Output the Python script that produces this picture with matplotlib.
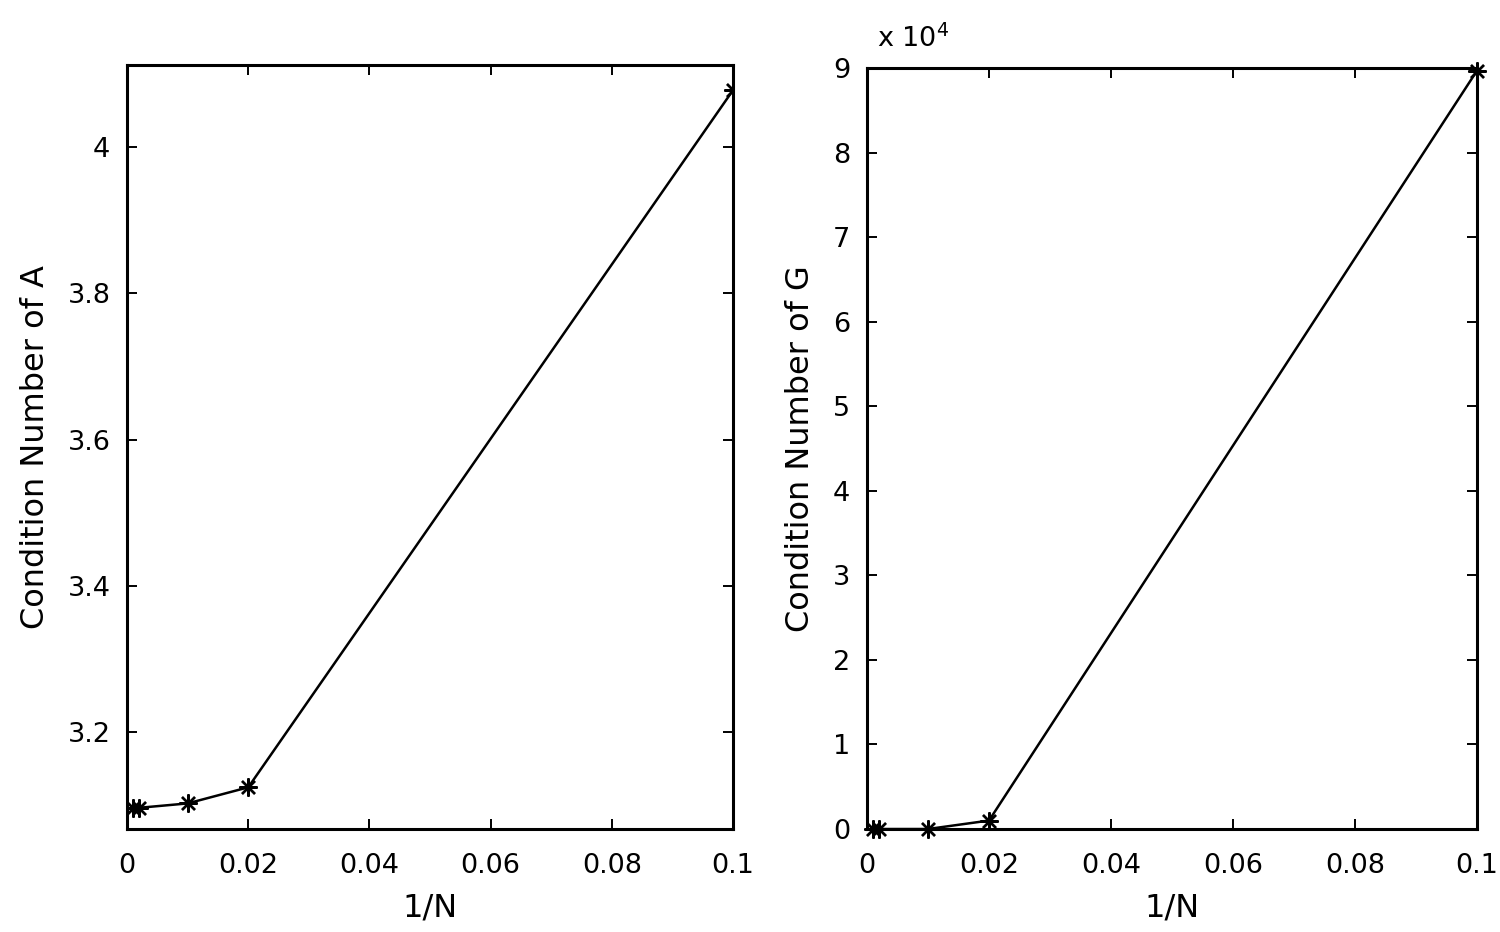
import matplotlib
matplotlib.use('Agg')
import matplotlib.pyplot as plt
from matplotlib.ticker import FuncFormatter

plt.rcParams['font.family'] = ['DejaVu Sans']

# 1/N values and condition numbers
inv_n = [0.001, 0.002, 0.01, 0.02, 0.1]
cond_a = [3.097, 3.097, 3.103, 3.125, 4.078]
cond_g = [0.0, 0.0, 0.0, 1000.0, 89700.0]

x_ticks = [0, 0.02, 0.04, 0.06, 0.08, 0.1]
x_labels = ['0', '0.02', '0.04', '0.06', '0.08', '0.1']
a_ticks = [3.2, 3.4, 3.6, 3.8, 4.0]
a_labels = ['3.2', '3.4', '3.6', '3.8', '4']
g_ticks = [i * 1e4 for i in range(10)]

fig = plt.figure(figsize=(15, 9.32), dpi=100)
ax1 = fig.add_axes([0.0847, 0.1105, 0.404, 0.8195])
ax2 = fig.add_axes([0.578, 0.1105, 0.4067, 0.8165])

tick_fs = 19.5
lab_fs = 23
star = (8, 2, 0)  # asterisk like the matlab '*' marker

def style(ax):
    ax.tick_params(direction='in', top=True, right=True, length=7, width=1.4,
                   labelsize=tick_fs)
    ax.tick_params(axis='x', pad=17)
    ax.tick_params(axis='y', pad=12)
    for s in ax.spines.values():
        s.set_linewidth(2.2)
    ax.set_xlim(0, 0.1)
    ax.set_xticks(x_ticks)
    ax.set_xticklabels(x_labels)
    ax.set_xlabel('1/N', fontsize=lab_fs, labelpad=10)

ax1.plot(inv_n, cond_a, color='black', lw=1.8, marker=star, ms=13, mew=1.7)
style(ax1)
ax1.set_ylim(3.068, 4.112)
ax1.set_yticks(a_ticks)
ax1.set_yticklabels(a_labels)
ax1.set_ylabel('Condition Number of A', fontsize=lab_fs, labelpad=12)

ax2.plot(inv_n, cond_g, color='black', lw=1.8, marker=star, ms=13, mew=1.7,
         clip_on=False)
style(ax2)
ax2.set_ylim(0, 9e4)
ax2.set_yticks(g_ticks)
ax2.yaxis.set_major_formatter(FuncFormatter(lambda v, p: '%d' % round(v / 1e4)))
ax2.set_ylabel('Condition Number of G', fontsize=lab_fs, labelpad=12)
ax2.annotate(r'x 10$^4$', xy=(0, 1), xycoords='axes fraction',
             xytext=(7, 11), textcoords='offset points',
             fontsize=tick_fs, ha='left', va='bottom')

fig.savefig('out.png', dpi=100, facecolor='white')
